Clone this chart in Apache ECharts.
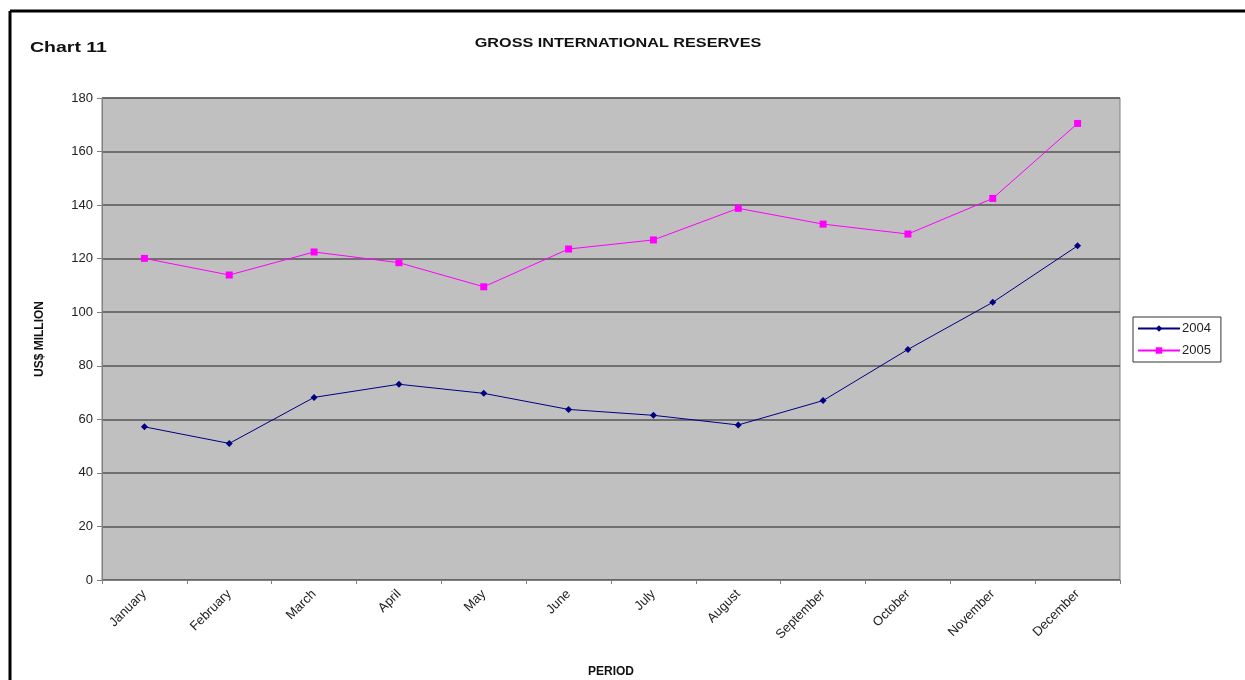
<!DOCTYPE html>
<html>
<head>
<meta charset="utf-8">
<script src="https://cdn.jsdelivr.net/npm/echarts@6/dist/echarts.min.js"></script>
<style>
  html, body { margin: 0; padding: 0; background: #fff; }
  #myChart { width: 1245px; height: 680px; }
</style>
</head>
<body>
<div id="myChart"></div>
<script>
// months along the x axis
let months = ['January', 'February', 'March', 'April', 'May', 'June', 'July',
  'August', 'September', 'October', 'November', 'December'];
// US$ million
let reserves2004 = [57.2, 51.0, 68.2, 73.1, 69.7, 63.7, 61.5, 57.9, 67.0, 86.1, 103.7, 124.8];
let reserves2005 = [120.1, 113.9, 122.5, 118.5, 109.5, 123.6, 127.0, 138.8, 132.9, 129.2, 142.5, 170.5];
let seriesNames = ['2004', '2005'];
let yMin = 0, yMax = 180, yStep = 20;

let colors = ['#000080', '#ff00ff'];
let font = 'Arial, "Liberation Sans", sans-serif';

let option = {
  color: colors,
  backgroundColor: '#fff',
  animation: false,
  textStyle: { fontFamily: font },
  graphic: [
    // frame lines (top and left only)
    { type: 'line', shape: { x1: 10, y1: 11, x2: 1245, y2: 11 }, style: { stroke: '#000', lineWidth: 3 } },
    { type: 'line', shape: { x1: 10, y1: 11, x2: 10, y2: 680 }, style: { stroke: '#000', lineWidth: 3 } },
    {
      type: 'text', left: 30, top: 40, scaleX: 1.3,
      style: { text: 'Chart 11', font: 'bold 15px ' + font, fill: '#111' }
    },
    {
      type: 'text', x: 618, y: 44, scaleX: 1.35,
      style: { text: 'GROSS INTERNATIONAL RESERVES', font: 'bold 12px ' + font, fill: '#111',
        align: 'center', verticalAlign: 'middle' }
    }
  ],
  legend: {
    data: seriesNames,
    orient: 'vertical',
    left: 1133,
    top: 317,
    itemWidth: 42,
    itemHeight: 8,
    itemGap: 9,
    padding: [5, 10, 5, 4],
    borderColor: '#333',
    borderWidth: 1,
    backgroundColor: '#fff',
    textStyle: { fontFamily: font, fontSize: 13, color: '#222', padding: [0, 0, 0, -3] }
  },
  grid: {
    left: 102,
    right: 125,
    top: 98,
    bottom: 100,
    outerBoundsMode: 'none',
    show: true,
    backgroundColor: '#c0c0c0',
    borderColor: '#808080',
    borderWidth: 1
  },
  xAxis: {
    type: 'category',
    data: months,
    boundaryGap: true,
    name: 'PERIOD',
    nameLocation: 'middle',
    nameGap: 86,
    nameTextStyle: { fontFamily: font, fontSize: 12, fontWeight: 'bold', color: '#111' },
    axisLine: { lineStyle: { color: '#808080', width: 1 } },
    axisTick: { show: true, length: 4, lineStyle: { color: '#808080' } },
    axisLabel: { rotate: 45, fontSize: 13, color: '#222', margin: 12, interval: 0 }
  },
  yAxis: {
    type: 'value',
    min: yMin,
    max: yMax,
    interval: yStep,
    name: 'US$ MILLION',
    nameLocation: 'middle',
    nameRotate: 90,
    nameGap: 56,
    nameTextStyle: { fontFamily: font, fontSize: 12, fontWeight: 'bold', color: '#111' },
    axisLine: { show: true, lineStyle: { color: '#808080', width: 1 } },
    axisTick: { show: true, length: 5, lineStyle: { color: '#808080' } },
    axisLabel: { fontSize: 13, color: '#222', margin: 9 },
    splitLine: { show: true, lineStyle: { color: '#555', width: 1.5 } }
  },
  series: [
    {
      name: seriesNames[0],
      type: 'line',
      data: reserves2004,
      symbol: 'diamond',
      symbolSize: 7,
      lineStyle: { width: 1, color: colors[0] },
      itemStyle: { color: colors[0] }
    },
    {
      name: seriesNames[1],
      type: 'line',
      data: reserves2005,
      symbol: 'rect',
      symbolSize: 7,
      lineStyle: { width: 1, color: colors[1] },
      itemStyle: { color: colors[1] }
    }
  ]
};

let myChart = echarts.init(document.getElementById('myChart'));
myChart.setOption(option);
</script>
</body>
</html>
